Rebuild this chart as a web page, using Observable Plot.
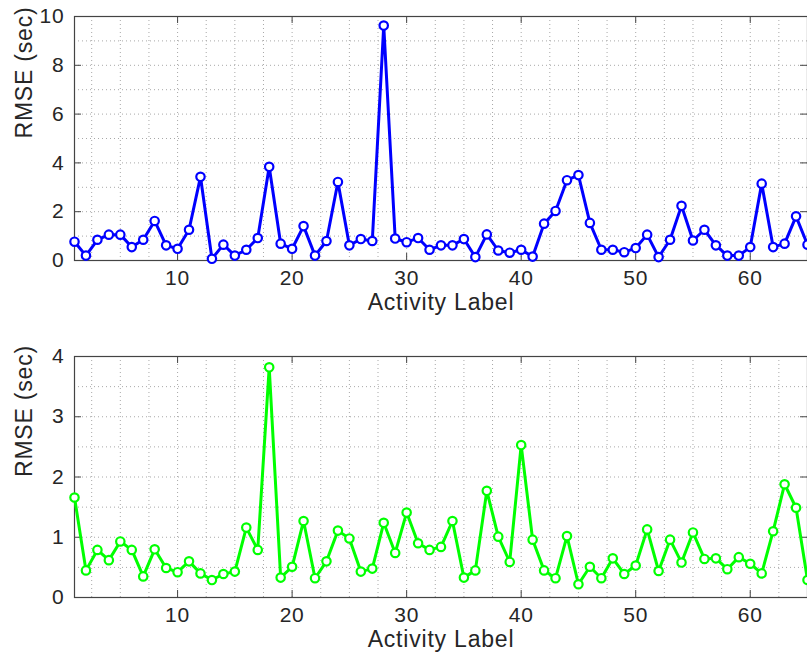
<!DOCTYPE html>
<html>
<head>
<meta charset="utf-8">
<script src="https://cdn.jsdelivr.net/npm/d3@7"></script>
<script src="https://cdn.jsdelivr.net/npm/@observablehq/plot@0.6"></script>
<style>
  html, body { margin: 0; padding: 0; background: #fff; overflow: hidden; }
  #chart svg { display: block; }
</style>
</head>
<body>
<div id="chart"></div>
<script>
// ---- data ----
const activity = [1,2,3,4,5,6,7,8,9,10,11,12,13,14,15,16,17,18,19,20,21,22,23,24,25,26,27,28,29,30,31,32,33,34,35,36,37,38,39,40,41,42,43,44,45,46,47,48,49,50,51,52,53,54,55,56,57,58,59,60,61,62,63,64,65];
const rmseTop = [0.77,0.2,0.85,1.06,1.06,0.55,0.85,1.62,0.62,0.48,1.26,3.43,0.07,0.65,0.2,0.44,0.92,3.84,0.69,0.48,1.41,0.2,0.8,3.22,0.62,0.88,0.8,9.63,0.9,0.75,0.92,0.44,0.62,0.62,0.88,0.14,1.07,0.41,0.32,0.44,0.16,1.51,2.03,3.29,3.5,1.54,0.44,0.44,0.34,0.51,1.06,0.14,0.85,2.24,0.82,1.26,0.62,0.2,0.2,0.55,3.15,0.55,0.69,1.81,0.65];
const rmseBottom = [1.66,0.45,0.79,0.62,0.93,0.79,0.35,0.8,0.49,0.42,0.6,0.4,0.29,0.39,0.43,1.16,0.79,3.82,0.33,0.51,1.27,0.32,0.6,1.11,0.98,0.43,0.48,1.24,0.74,1.41,0.9,0.79,0.84,1.27,0.33,0.45,1.77,1.01,0.59,2.53,0.96,0.45,0.32,1.02,0.22,0.51,0.32,0.65,0.39,0.53,1.13,0.44,0.96,0.58,1.08,0.64,0.65,0.47,0.67,0.56,0.4,1.1,1.88,1.49,0.29];
const xTicks = [10,20,30,40,50,60];
const xGrid = [2.5,5,7.5,10,12.5,15,17.5,20,22.5,25,27.5,30,32.5,35,37.5,40,42.5,45,47.5,50,52.5,55,57.5,60,62.5];
const yTicksTop = [0,2,4,6,8,10];
const yGridTop = [1,2,3,4,5,6,7,8,9];
const yTicksBottom = [0,1,2,3,4];
const yGridBottom = [0.5,1,1.5,2,2.5,3,3.5];
const xLabel = "Activity Label";
const yLabel = "RMSE (sec)";

const W = 807, ML = 74, MR = 0;
const FONT = "'Liberation Sans', Arial, Helvetica, sans-serif";

function panel(vals, color, yMax, yTicks, yGrid, height, mt, mb) {
  const data = activity.map((x, i) => ({x, y: vals[i]}));
  const plotH = height - mt - mb;
  const plotW = W - ML - MR;
  const tk = 7;
  return Plot.plot({
    width: W, height,
    marginLeft: ML, marginRight: MR, marginTop: mt, marginBottom: mb,
    style: {fontFamily: FONT, fontSize: "21px", color: "#262626", background: "#fff", letterSpacing: "0.8px", overflow: "visible"},
    x: {domain: [1, 65], ticks: xTicks, tickSize: 0, tickPadding: 10, tickFormat: d => String(d), label: null},
    y: {domain: [0, yMax], ticks: yTicks, tickSize: 0, tickPadding: 10, tickFormat: d => String(d), label: null},
    marks: [
      Plot.ruleX(xGrid, {stroke: "#a8a8a8", strokeWidth: 1, strokeDasharray: "1,3"}),
      Plot.ruleY(yGrid, {stroke: "#a8a8a8", strokeWidth: 1, strokeDasharray: "1,3"}),
      Plot.ruleX(xTicks, {insetTop: plotH - tk, stroke: "#444"}),
      Plot.ruleX(xTicks, {insetBottom: plotH - tk, stroke: "#444"}),
      Plot.ruleY(yTicks, {insetRight: plotW - tk, stroke: "#444"}),
      Plot.ruleY(yTicks, {insetLeft: plotW - tk, stroke: "#444"}),
      Plot.frame({stroke: "#444", strokeWidth: 1.2}),
      Plot.line(data, {x: "x", y: "y", stroke: color, strokeWidth: 3}),
      Plot.dot(data, {x: "x", y: "y", r: 4.2, stroke: color, strokeWidth: 2.2, fill: "white"}),
      Plot.text([xLabel], {text: d => d, frameAnchor: "bottom", dy: 49, fontSize: 23, fill: "#262626"}),
      Plot.text([yLabel], {text: d => d, frameAnchor: "left", dx: -50, rotate: -90, fontSize: 23, fill: "#262626"})
    ]
  });
}

const el = document.getElementById("chart");
el.append(panel(rmseTop, "#0000ff", 10, yTicksTop, yGridTop, 340, 16, 80));
el.append(panel(rmseBottom, "#00ff00", 4, yTicksBottom, yGridBottom, 316, 16, 59));
</script>
</body>
</html>
